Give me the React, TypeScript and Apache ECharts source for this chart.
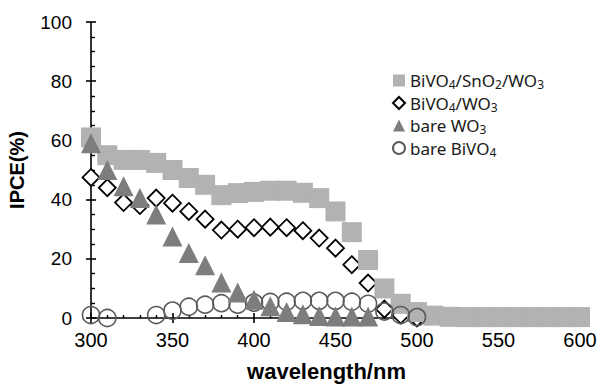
import React, { useEffect, useRef } from "react";
import * as echarts from "echarts";

const wavelengths = [300, 310, 320, 330, 340, 350, 360, 370, 380, 390, 400, 410, 420, 430, 440, 450, 460, 470, 480, 490, 500, 510, 520, 530, 540, 550, 560, 570, 580, 590, 600];

const seriesNames = ["BiVO4/SnO2/WO3", "BiVO4/WO3", "bare WO3", "bare BiVO4"];

// BiVO4/SnO2/WO3 (300..600)
const snO2Vals = [61, 55, 53.4, 53.4, 52.4, 50, 47.3, 45, 41.5, 42.2, 42.6, 43, 43, 42.3, 40.5, 36, 29, 19.6, 10, 4.8, 2, 0.8, 0.4, 0.3, 0.3, 0.3, 0.3, 0.3, 0.3, 0.3, 0.3];
// BiVO4/WO3 (300..500)
const bivWo3Vals = [47.5, 44, 39, 38, 40.5, 38.8, 36, 33.4, 29.7, 30, 30.5, 30.7, 30.5, 29.5, 27, 23.6, 18, 11.8, 3, 1, 0];
// bare WO3 (300..470)
const wo3Vals = [59, 50, 44.5, 40.5, 35, 27.5, 22, 17.8, 12, 8.6, 6.2, 4, 2, 1.3, 0.7, 0.5, 0.5, 0.5];
// bare BiVO4 (300..500)
const bivVals: (number | null)[] = [1, 0, null, null, 1, 2.5, 3.8, 4.5, 5, 4.5, 5.2, 5.4, 5.5, 5.8, 5.8, 5.8, 5.5, 4.8, 2.2, 1, 0.3];

const xTicks = { min: 300, max: 600, interval: 50 };
const yTicks = { min: 0, max: 100, interval: 20 };

function pairs(vals: (number | null)[]) {
  const out: [number, number][] = [];
  vals.forEach((v, i) => {
    if (v !== null && v !== undefined) out.push([wavelengths[i], v]);
  });
  return out;
}

const richLabels: Record<string, string> = {
  "BiVO4/SnO2/WO3": "{n|BiVO}{s|4}{n|/SnO}{s|2}{n|/WO}{s|3}",
  "BiVO4/WO3": "{n|BiVO}{s|4}{n|/WO}{s|3}",
  "bare WO3": "{n|bare WO}{s|3}",
  "bare BiVO4": "{n|bare BiVO}{s|4}",
};

export default function App() {
  const ref = useRef<HTMLDivElement>(null);
  useEffect(() => {
    const chart = echarts.init(ref.current!, null, { renderer: "svg" });
    const axisFont = "'Liberation Sans', Arial, sans-serif";
    const black = "#000";
    chart.setOption({
      animation: false,
      backgroundColor: "#fff",
      grid: { left: 91, right: 21, top: 22, bottom: 67, containLabel: false, outerBoundsMode: "none" },
      legend: {
        orient: "vertical",
        left: 387,
        top: 67,
        itemWidth: 12,
        itemHeight: 12,
        itemGap: 4,
        data: seriesNames,
        formatter: (name: string) => richLabels[name] || name,
        textStyle: {
          color: "#1a1a1a",
          fontFamily: "'Noto Sans', sans-serif",
          fontSize: 17,
          rich: {
            n: { fontFamily: "'Noto Sans', sans-serif", fontSize: 17, color: "#1a1a1a", lineHeight: 20 },
            s: { fontFamily: "'Noto Sans', sans-serif", fontSize: 12, color: "#1a1a1a", verticalAlign: "bottom" },
          },
        },
      },
      xAxis: [
        {
          type: "value",
          min: xTicks.min,
          max: xTicks.max,
          interval: xTicks.interval,
          position: "bottom",
          axisLine: { show: true, onZero: false, lineStyle: { color: black, width: 1.6 } },
          axisTick: { show: true, inside: true, length: 5, lineStyle: { color: black, width: 1.6 } },
          minorTick: { show: true, splitNumber: 5, length: 3, lineStyle: { color: black, width: 1.4 } },
          splitLine: { show: false },
          axisLabel: { fontSize: 20, color: black, margin: 12, fontFamily: axisFont },
          name: "wavelength/nm",
          nameLocation: "middle",
          nameGap: 42,
          nameTextStyle: { fontSize: 22, fontWeight: "bold", color: black, fontFamily: axisFont, padding: [0, 18, 0, 0] },
        },
        {
          type: "value",
          min: xTicks.min,
          max: xTicks.max,
          interval: xTicks.interval,
          position: "bottom",
          axisLine: { show: false, onZero: false },
          axisTick: { show: true, inside: false, length: 5, lineStyle: { color: black, width: 1.6 } },
          axisLabel: { show: false },
          splitLine: { show: false },
        },
      ],
      yAxis: [
        {
          type: "value",
          min: yTicks.min,
          max: yTicks.max,
          interval: yTicks.interval,
          position: "left",
          axisLine: { show: true, onZero: false, lineStyle: { color: black, width: 1.6 } },
          axisTick: { show: true, inside: true, length: 5, lineStyle: { color: black, width: 1.6 } },
          minorTick: { show: true, splitNumber: 4, length: 4, lineStyle: { color: black, width: 1.4 } },
          splitLine: { show: false },
          axisLabel: { fontSize: 19, color: black, margin: 19, fontFamily: axisFont },
          name: "IPCE(%)",
          nameLocation: "middle",
          nameGap: 64,
          nameRotate: 90,
          nameTextStyle: { fontSize: 20, fontWeight: "bold", color: black, fontFamily: axisFont },
        },
        {
          type: "value",
          min: yTicks.min,
          max: yTicks.max,
          interval: yTicks.interval,
          position: "left",
          axisLine: { show: false, onZero: false },
          axisTick: { show: true, inside: false, length: 5, lineStyle: { color: black, width: 1.6 } },
          axisLabel: { show: false },
          splitLine: { show: false },
        },
      ],
      series: [
        {
          name: seriesNames[0],
          type: "scatter",
          z: 3,
          clip: false,
          symbol: "rect",
          symbolSize: 20,
          itemStyle: { color: "#b2b2b2", opacity: 1 },
          data: pairs(snO2Vals),
        },
        {
          name: seriesNames[1],
          type: "scatter",
          z: 2,
          clip: false,
          symbol: "diamond",
          symbolSize: 17,
          itemStyle: { color: "#fff", borderColor: "#000", borderWidth: 1.8, opacity: 1 },
          data: pairs(bivWo3Vals),
        },
        {
          name: seriesNames[2],
          type: "scatter",
          z: 5,
          clip: false,
          symbol: "triangle",
          symbolSize: [20, 20],
          itemStyle: { color: "#7d7d7d", opacity: 1 },
          data: pairs(wo3Vals),
        },
        {
          name: seriesNames[3],
          type: "scatter",
          z: 4,
          clip: false,
          symbol: "circle",
          symbolSize: 17,
          itemStyle: { color: "rgba(255,255,255,0)", borderColor: "#5a5a5a", borderWidth: 1.6, opacity: 1 },
          data: pairs(bivVals),
        },
      ],
    });
    return () => chart.dispose();
  }, []);
  return <div ref={ref} style={{ position: "absolute", left: 0, top: 0, width: 601, height: 385 }} />;
}
